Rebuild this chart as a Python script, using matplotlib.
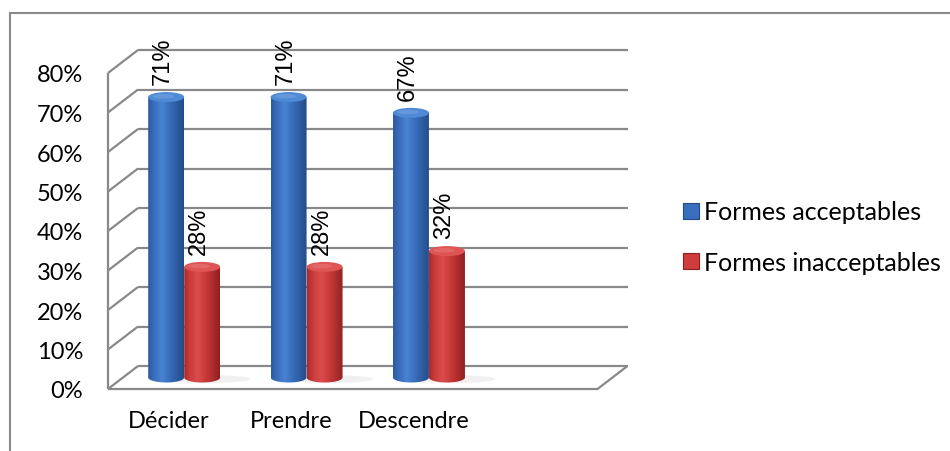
import numpy as np
import matplotlib
matplotlib.use('Agg')
import matplotlib.pyplot as plt
from matplotlib.patches import Rectangle, Ellipse, Polygon
from matplotlib.colors import LinearSegmentedColormap
from matplotlib.lines import Line2D

# ---- data ----
categories = ['Décider', 'Prendre', 'Descendre']
acceptables = [71, 71, 67]
inacceptables = [28, 28, 32]
series_names = ['Formes acceptables', 'Formes inacceptables']
y_ticks = [0, 10, 20, 30, 40, 50, 60, 70, 80]
y_tick_labels = ['0%', '10%', '20%', '30%', '40%', '50%', '60%', '70%', '80%']
n_slots = 4  # Excel category slots (last is empty)

# ---- style ----
W, H = 950, 452
TEXT_FONT = ['Lato', 'DejaVu Sans']
LABEL_FONT = ['Liberation Sans', 'DejaVu Sans']
GRID = '#898989'
px_unit_x = 489.5 / n_slots
px_unit_y = 316 / 80
DXb = 30 / px_unit_x      # depth offset to back wall (data units)
DYb = 23 / px_unit_y
DXm, DYm = DXb / 2, DYb / 2   # mid-depth (where bars stand)
bar_w = 36 / px_unit_x
ell_h = 10 / px_unit_y

blue_cmap = LinearSegmentedColormap.from_list('b', [(0, '#2c5a9e'), (0.15, '#386bba'), (0.38, '#4884d2'),
                                                    (0.65, '#3469b6'), (1.0, '#244b85')])
red_cmap = LinearSegmentedColormap.from_list('r', [(0, '#ab2a2a'), (0.15, '#c93a3a'), (0.38, '#dc4c4c'),
                                                   (0.65, '#c43636'), (1.0, '#8e2020')])
blue_top, red_top = '#4f8ad6', '#df5454'

fig = plt.figure(figsize=(W / 100, H / 100), dpi=100)
fig.patch.set_facecolor('white')
# outer chart border (cropped at right and bottom)
fig.patches.append(Rectangle((9.5 / W, -0.2), 1.2, (H - 13.5) / H + 0.2, transform=fig.transFigure,
                             fill=False, edgecolor='#8a8a8a', linewidth=1.5))

ax = fig.add_axes([108 / W, (H - 390) / H, 489.5 / W, 316 / H])
ax.set_xlim(-0.5, n_slots - 0.5)
ax.set_ylim(0, 80)
ax.set_autoscale_on(False)
for s in ax.spines.values():
    s.set_visible(False)
ax.set_facecolor('none')

gkw = dict(color=GRID, lw=1.6, clip_on=False, zorder=1, solid_capstyle='butt')
x0, x1 = -0.5, n_slots - 0.5
for v in y_ticks:
    ax.plot([x0 + DXb, x1 + DXb], [v + DYb, v + DYb], **gkw)
    ax.plot([x0, x0 + DXb], [v, v + DYb], **gkw)
ax.plot([x0, x0], [0, 80], **gkw)
ax.plot([x0, x1], [0, 0], **gkw)
ax.plot([x1, x1 + DXb], [0, DYb], **gkw)


def cylinder(xc, h, cmap, topc):
    xl, xr = xc - bar_w / 2, xc + bar_w / 2
    t = np.linspace(np.pi, 2 * np.pi, 40)
    arc = np.column_stack([xc + bar_w / 2 * np.cos(t), DYm + ell_h / 2 * np.sin(t)])
    pts = np.vstack([arc, [[xr, h + DYm], [xl, h + DYm]]])
    poly = Polygon(pts, closed=True, transform=ax.transData, facecolor='none', edgecolor='none')
    ax.add_patch(poly)
    grad = np.linspace(0, 1, 256)[np.newaxis, :]
    im = ax.imshow(grad, cmap=cmap, extent=[xl, xr, DYm - ell_h, h + DYm], aspect='auto',
                   origin='lower', zorder=3, interpolation='bicubic')
    im.set_clip_path(poly)
    ax.add_patch(Ellipse((xc, h + DYm), bar_w, ell_h, facecolor=topc, edgecolor='none', zorder=4))
    ax.add_patch(Ellipse((xc - bar_w * 0.08, h + DYm + ell_h * 0.08), bar_w * 0.6, ell_h * 0.45,
                         facecolor='white', alpha=0.12, edgecolor='none', zorder=4))


for i, cat in enumerate(categories):
    xc = i + DXm
    ax.add_patch(Ellipse((xc + bar_w * 0.6, DYm - 0.4), bar_w * 2.5, ell_h * 0.8,
                         facecolor='#b0b0b0', alpha=0.18, edgecolor='none', zorder=2))
    for val, off, cmap, topc in [(acceptables[i], -bar_w / 2, blue_cmap, blue_top),
                                 (inacceptables[i], bar_w / 2, red_cmap, red_top)]:
        cylinder(xc + off, val, cmap, topc)
        ax.annotate(f'{val}%', xy=(xc + off, val + DYm), xytext=(-3, 13), textcoords='offset pixels',
                    rotation=90, ha='center', va='bottom', fontsize=17, family=LABEL_FONT,
                    color='black', zorder=5)

ax.set_xticks(range(len(categories)))
ax.set_xticklabels(categories, family=TEXT_FONT, fontsize=17)
ax.set_yticks(y_ticks)
ax.set_yticklabels(y_tick_labels, family=TEXT_FONT, fontsize=17)
ax.tick_params(axis='x', length=0, pad=15)
ax.tick_params(axis='y', length=0, pad=18)

handles = [Line2D([], [], marker='s', linestyle='none', markersize=11.5, markerfacecolor='#3a6fc0',
                  markeredgecolor='#24497f', markeredgewidth=0.8),
           Line2D([], [], marker='s', linestyle='none', markersize=11.5, markerfacecolor='#d03c3c',
                  markeredgecolor='#8a1f1f', markeredgewidth=0.8)]
fig.legend(handles, series_names, loc='center left', bbox_to_anchor=(678 / W, (H - 238) / H),
           frameon=False, prop={'family': TEXT_FONT, 'size': 18}, handlelength=1.0,
           handletextpad=0.05, borderpad=0, borderaxespad=0, labelspacing=1.1)

fig.savefig('out.png', dpi=100, facecolor='white')
